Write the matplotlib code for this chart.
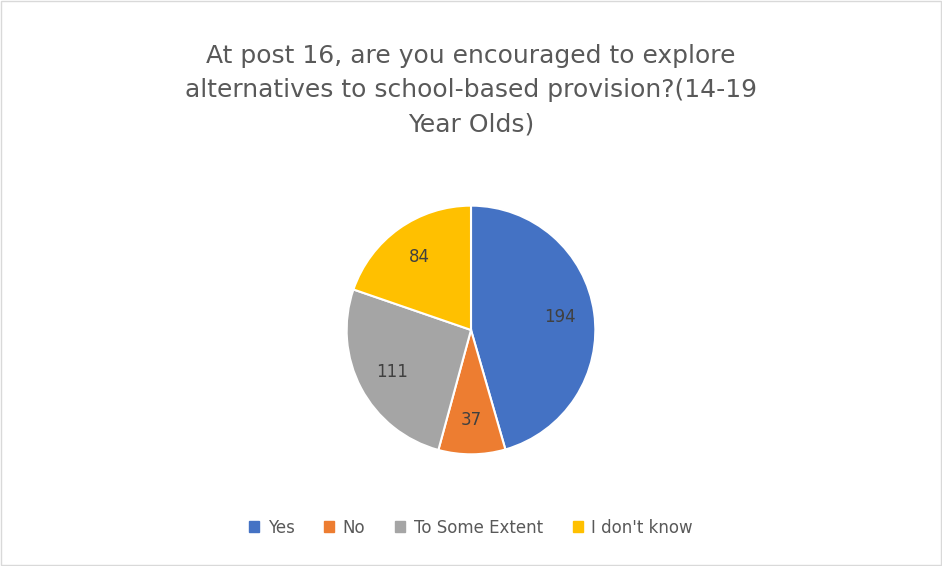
import matplotlib
matplotlib.use("Agg")
import matplotlib.pyplot as plt
from matplotlib.patches import Rectangle
import numpy as np

labels = ["Yes", "No", "To Some Extent", "I don't know"]
values = [194, 37, 111, 84]
colors = ["#4472C4", "#ED7D31", "#A5A5A5", "#FFC000"]

fig = plt.figure(figsize=(9.42, 5.66), dpi=100)
fig.patches.append(Rectangle((0.001, 0.001), 0.998, 0.998, transform=fig.transFigure,
                             fill=False, edgecolor="#D9D9D9", linewidth=1))

fig.text(0.5, 0.841,
         "At post 16, are you encouraged to explore\nalternatives to school-based provision?(14-19\nYear Olds)",
         ha="center", va="center", fontsize=18, color="#595959", linespacing=1.55)

w_ax, h_ax = 0.33, 0.55
ax = fig.add_axes([0.5 - w_ax / 2, 0.417 - h_ax / 2, w_ax, h_ax])
wedges, texts = ax.pie(values, colors=colors, startangle=90, counterclock=False,
                       radius=1.0, wedgeprops=dict(edgecolor="white", linewidth=1.5))
for w, v in zip(wedges, values):
    ang = np.deg2rad((w.theta1 + w.theta2) / 2)
    ax.text(0.72 * np.cos(ang), 0.72 * np.sin(ang), str(v), ha="center", va="center",
            fontsize=12, color="#404040")
ax.set_aspect("equal")

handles = [Rectangle((0, 0), 1, 1, color=c) for c in colors]
fig.legend(handles, labels, loc="center", bbox_to_anchor=(0.5, 0.068), ncol=4,
           frameon=False, fontsize=12, handlelength=0.6, handleheight=0.6,
           columnspacing=1.8, handletextpad=0.5, labelcolor="#595959")

fig.savefig("out.png", dpi=100)
